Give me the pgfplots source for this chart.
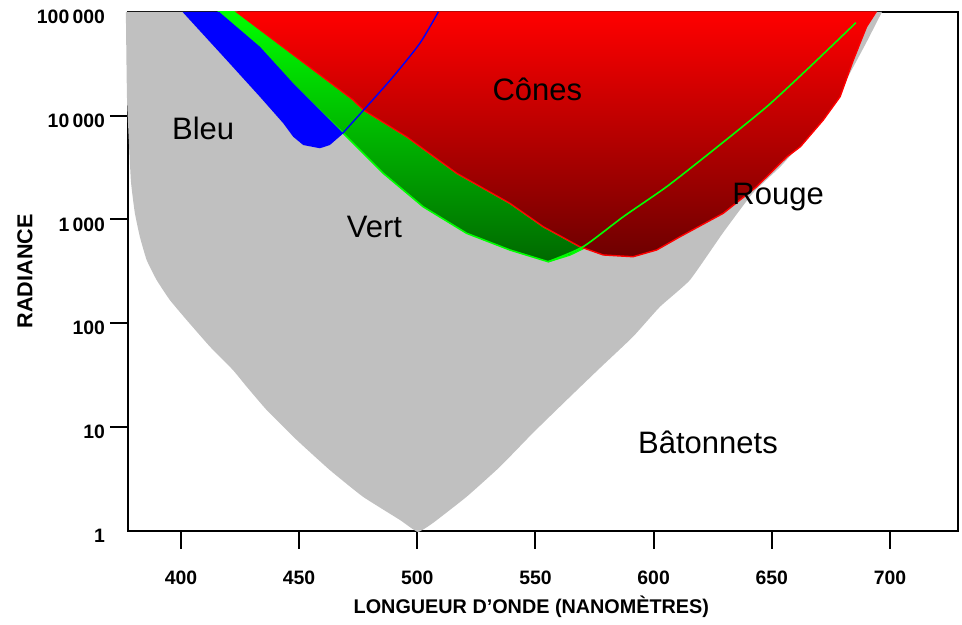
\documentclass[border=0pt]{standalone}
\usepackage{fontspec}
\setmainfont{Liberation Sans}
\usepackage{pgfplots}
\pgfplotsset{compat=1.18}
\definecolor{grayfill}{RGB}{192,192,192}
\definecolor{pureblue}{RGB}{0,0,255}
\definecolor{purered}{RGB}{255,0,0}
\definecolor{darkred}{RGB}{110,0,0}
\definecolor{puregreen}{RGB}{0,255,0}
\definecolor{darkgreen}{RGB}{0,105,0}
\begin{document}
\begin{tikzpicture}
\path (-64pt,-44.75pt) rectangle (417pt,265.25pt);
\begin{axis}[
  at={(0pt,0pt)}, anchor=south west,
  scale only axis, width=415pt, height=259.25pt,
  xmin=377.6, xmax=728.8,
  ymode=log, ymin=1, ymax=100000,
  clip=false,
  axis line style={line width=1pt, black},
  tick style={line width=1pt, black},
  tick align=outside, major tick length=9pt,
  xtick pos=left, ytick pos=left,
  xminorticks=false, yminorticks=false,
  xtick={400,450,500,550,600,650,700},
  xticklabels={400,450,500,550,600,650,700},
  ytick={10,100,1000,10000},
  yticklabels={10,100,1\,000,10\,000},
  extra y ticks={1,100000},
  extra y tick labels={1,100\,000},
  extra y tick style={tick style={draw=none}},
  tick label style={font=\bfseries\fontsize{9.7}{9.7}\selectfont},
  x tick label style={yshift=-7.5pt},
  y tick label style={yshift=-2.5pt, xshift=1pt},
  xlabel={LONGUEUR D'ONDE (NANOMÈTRES)},
  ylabel={RADIANCE},
  every axis x label/.style={at={(axis description cs:0.486,0)}, anchor=center, yshift=-38.25pt, font=\bfseries\fontsize{9.9}{9.9}\selectfont},
  every axis y label/.style={at={(axis description cs:-0.1241,0.5)}, rotate=90, anchor=center, font=\bfseries\fontsize{10.8}{10.8}\selectfont},
]
% Batonnets (rods)
\addplot[fill=grayfill, draw=none, smooth, tension=0.25] coordinates {
(376.7,100000) (377.2,14160) (378.8,2399) (380.5,1153) (382.65,676) (385.5,405.5)
(389.7,260.6) (395.3,167.1) (402.4,107.2) (412.3,59.2) (422.0,35.3) (427.8,24.4)
(436.3,14.5) (449.0,7.464) (463.0,3.828) (477.0,2.118) (492.7,1.262) (500.2,0.97)
(506.6,1.180) (520.9,2.118) (535.0,4.121) (548.9,8.710) (563.2,18.11) (577.3,36.90)
(591.3,73.96) (602.7,143.9) (615.4,260.6) (629.3,739.6) (642.0,1799) (653.5,3199)
(661.9,5212) (671.7,9506) (681.0,21130) (689.9,50230) (696.6,100000)
} -- cycle;
% Vert band
\addplot[draw=puregreen, line width=0.8pt, top color=puregreen, bottom color=darkgreen] coordinates {
(416.2,100000) (468.7,6761) (485.6,2786) (502.5,1324) (520.9,734.5) (539.2,507.0)
(555.4,390.8) (564.6,453.9) (570.2,523.6)
(568.8,545.8) (553.3,851.1) (539.2,1429) (516.7,2786) (495.5,6266) (477.1,11380)
(472.9,14160) (423.6,100000)
} -- cycle;
% Rouge (cones)
\addplot[draw=purered, line width=0.7pt, top color=purered, bottom color=darkred] coordinates {
(423.6,100000) (472.9,14160) (477.1,11380) (495.5,6266) (516.7,2786) (539.2,1429)
(553.3,851.1) (568.8,545.8) (578.7,453.9) (591.3,436.5) (601.3,507.0) (611.2,680.8)
(629.5,1146) (643.6,2065) (656.5,4027) (662.1,5023) (671.8,9099) (678.9,15240)
(684.5,34430) (690.1,72110) (694.1,100000)
} -- cycle;
% Bleu
\addplot[fill=pureblue, draw=none] coordinates {
(400.7,100000) (419.3,34430) (433.4,15240) (443.3,8453) (447.5,6266) (451.75,5212)
(458.8,4853) (463.0,5212) (468.7,6761) (447.5,20510) (433.4,46240) (416.2,100000)
} -- cycle;
% green curve
\addplot[puregreen, line width=0.8pt, smooth, tension=0.4] coordinates {
(555.4,390.8) (570.2,545.8) (587.2,1062) (605.5,2065) (625.3,4667) (647.9,12220)
(666.2,29720) (685.6,78890)
};
% blue curve
\addplot[pureblue, line width=0.7pt, smooth, tension=0.4] coordinates {
(468.4,6761) (478.6,12220) (489.8,23770) (501.1,49890) (508.9,100000)
};
\node[anchor=base, font=\fontsize{15.5}{15.5}\selectfont] at (axis cs:409.4,5916) {Bleu};
\node[anchor=base, font=\fontsize{15.5}{15.5}\selectfont] at (axis cs:550.8,13870) {Cônes};
\node[anchor=base, font=\fontsize{15.5}{15.5}\selectfont] at (axis cs:481.9,662.2) {Vert};
\node[anchor=base, font=\fontsize{15.5}{15.5}\selectfont] at (axis cs:652.7,1377) {Rouge};
\node[anchor=base, font=\fontsize{15.5}{15.5}\selectfont] at (axis cs:623.0,5.585) {Bâtonnets};
\end{axis}
\end{tikzpicture}
\end{document}
